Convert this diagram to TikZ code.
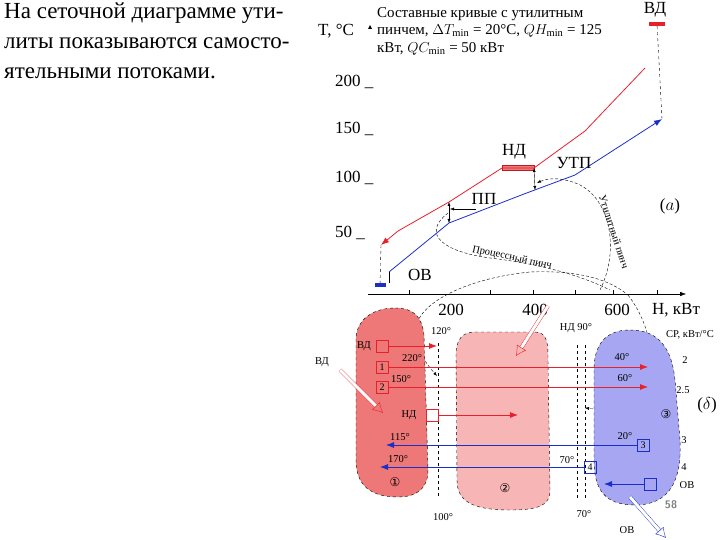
\documentclass[tikz,border=0pt]{standalone}
\usepackage{fontspec}
\setmainfont{Liberation Serif}
\newfontfamily\symfont{DejaVu Sans}
\usetikzlibrary{arrows.meta}
\definecolor{hotred}{HTML}{E8202A}
\definecolor{coldblue}{HTML}{1A2FC8}
\definecolor{blobA}{HTML}{EE7777}
\definecolor{blobB}{HTML}{F7B5B5}
\definecolor{blobC}{HTML}{A6A6F2}
\begin{document}
\begin{tikzpicture}[x=1pt,y=-1pt,
    lbl/.style={inner sep=0pt, font=\fontsize{10.5}{12}\selectfont},
    big/.style={inner sep=0pt, font=\fontsize{17}{19}\selectfont},
    stream/.style={-{Latex[length=8pt,width=6pt]}, thick},
    sbox/.style={draw, thick, minimum size=12pt, inner sep=0pt, font=\fontsize{10}{11}\selectfont},
    blob/.style={draw, dashed, thin},
    hollow/.style={double, double distance=3pt, -{Latex[open,length=10pt,width=11pt]}},
    loop/.style={densely dashed, thin},
]
\useasboundingbox (0,0) rectangle (720,540);

% left text
\node[anchor=west, inner sep=0pt, font=\fontsize{23}{26}\selectfont] (t1) at (4,13) {На сеточной диаграмме ути-};
\node[anchor=west, inner sep=0pt, font=\fontsize{23}{26}\selectfont] (t2) at (4,43) {литы показываются самосто-};
\node[anchor=west, inner sep=0pt, font=\fontsize{23}{26}\selectfont] (t3) at (4,73) {ятельными потоками.};

% (a) axes
\node[big, anchor=west] (ylab) at (318,31) {T, °C};
\fill (370,25) -- (368,29) -- (372,29) -- cycle;
\foreach \v/\y in {200/82,150/129,100/178,50/233} {
  \node[big, anchor=west] (y\v) at (335,\y) {\v\ \_};
}
\coordinate (ax0) at (368,294);
\coordinate (ax1) at (686,294);
\draw[-{Latex[length=6pt]}] (ax0) -- (ax1);
\foreach \x in {409,490,533,575,613,657} { \draw (\x,294) -- (\x,290); }
\node[anchor=north west, align=left, inner sep=0pt, font=\fontsize{15}{17.5}\selectfont] (title) at (377,7)
  {Составные кривые с утилитным\\пинчем, $\Delta T_{\min}$ = 20°C, $QH_{\min}$ = 125\\кВт, $QC_{\min}$ = 50 кВт};

% utility bars
\node[fill=hotred, minimum width=16pt, minimum height=4pt, inner sep=0pt] (vd) at (657,24) {};
\node[big] (vdl) at (655,10) {ВД};
\node[fill=coldblue, minimum width=11pt, minimum height=4pt, inner sep=0pt] (ov) at (380,285) {};
\node[big] (ovl) at (420,275) {ОВ};
\node[draw=hotred!80!black, fill=blobA, minimum width=32pt, minimum height=5pt, inner sep=0pt] (nd) at (518,168) {};
\node[big] (ndl) at (514,152) {НД};

% curves
\coordinate (h0) at (645,68);
\coordinate (h1) at (585,131);
\coordinate (h2) at (534,168);
\coordinate (h3) at (502,168);
\coordinate (h4) at (449,202);
\coordinate (h5) at (398,231);
\coordinate (h6) at (381,245);
\draw[hotred, thick, -{Latex[length=8pt,width=6pt]}] (h0) -- (h1) -- (h2) -- (h3) -- (h4) -- (h5) -- (h6);
\coordinate (c0) at (389,272);
\coordinate (c1) at (449,223);
\coordinate (c2) at (524,194);
\coordinate (c3) at (575,175);
\coordinate (c4) at (662,119);
\draw[coldblue, thick, -{Latex[length=8pt,width=6pt]}] (c0) -- (c1) -- (c2) -- (c3) -- (c4);
\draw[dashed] (vd) -- (c4);
\draw[dashed] (h6) -- (ov);
\draw (c0) -- (389,283);

% pinches
\draw[{Latex[length=4pt]}-{Latex[length=4pt]}] (h4) -- (c1);
\coordinate (c5) at (535,190);
\draw[{Latex[length=4pt]}-{Latex[length=4pt]}] (h2) -- (c5);
\node[big] (pp) at (484,199) {ПП};
\draw[-{Latex[length=4pt]}] (476,209) -- (450,209);
\node[big] (utp) at (574,163) {УТП};
\node[big] (la) at (670,206) {($a$)};

% pinch loops
\draw[loop, -{Latex[length=4pt]}] (600,290) .. controls (620,250) and (610,200) .. (580,185) .. controls (565,178) and (550,177) .. (537,183);
\draw[loop] (448,213) .. controls (420,235) and (445,252) .. (490,258) .. controls (540,264) and (580,275) .. (610,290);
\draw[loop] (417,323) .. controls (425,300) and (470,278) .. (530,272) .. controls (580,270) and (610,280) .. (628,295);
\draw[loop, -{Latex[length=4pt]}] (416,333) .. controls (418,355) and (430,368) .. (437,376);
\draw[loop, -{Latex[length=4pt]}] (628,295) .. controls (655,330) and (660,380) .. (630,400) .. controls (610,408) and (595,409) .. (585,408);
\node[lbl, rotate=-12] (ppinch) at (512,258) {Процессный пинч};
\node[lbl, rotate=-72] (upinch) at (614,232) {Утилитный пинч};

% (б) blobs
\fill[blobA] (395,308) .. controls (415,308) and (422,318) .. (424,335) -- (428,470) .. controls (428,490) and (415,497) .. (398,497) .. controls (370,497) and (356,485) .. (356,460) -- (356,340) .. controls (356,318) and (375,308) .. (395,308) -- cycle;
\draw[blob] (395,308) .. controls (415,308) and (422,318) .. (424,335) -- (428,470) .. controls (428,490) and (415,497) .. (398,497) .. controls (370,497) and (356,485) .. (356,460) -- (356,340) .. controls (356,318) and (375,308) .. (395,308) -- cycle;
\fill[blobB] (475,332) -- (535,332) .. controls (548,332) and (548,345) .. (548,360) -- (550,490) .. controls (550,505) and (540,510) .. (510,510) .. controls (470,510) and (457,500) .. (457,480) -- (456,355) .. controls (456,340) and (462,332) .. (475,332) -- cycle;
\draw[blob] (475,332) -- (535,332) .. controls (548,332) and (548,345) .. (548,360) -- (550,490) .. controls (550,505) and (540,510) .. (510,510) .. controls (470,510) and (457,500) .. (457,480) -- (456,355) .. controls (456,340) and (462,332) .. (475,332) -- cycle;
\fill[blobC] (630,330) .. controls (660,330) and (672,350) .. (675,380) -- (680,440) .. controls (682,480) and (670,505) .. (635,505) .. controls (605,505) and (594,490) .. (594,460) -- (594,370) .. controls (594,345) and (605,330) .. (630,330) -- cycle;
\draw[blob] (630,330) .. controls (660,330) and (672,350) .. (675,380) -- (680,440) .. controls (682,480) and (670,505) .. (635,505) .. controls (605,505) and (594,490) .. (594,460) -- (594,370) .. controls (594,345) and (605,330) .. (630,330) -- cycle;

% dashed temperature lines
\draw[dashed] (438,343) -- (438,497);
\draw[dashed] (577,345) -- (577,500);
\draw[dashed] (585,345) -- (585,500);

% (б) labels
\node[big] (h200) at (451,310) {200};
\node[big] (h400) at (535,310) {400};
\node[big] (h600) at (617,310) {600};
\node[big, anchor=west] (hlab) at (652,310) {Н, кВт};
\node[lbl] (t120) at (441,331) {120°};
\node[lbl] (t90) at (576,328) {НД 90°};
\node[lbl] (cp) at (690,335) {СР, кВт/°С};
\node[lbl] (t100) at (443,517) {100°};
\node[lbl] (t70) at (584,514) {70°};

% hot streams
\node[sbox, draw=hotred] (bvd) at (382,346) {};
\node[lbl] (vdb) at (364,346) {ВД};
\coordinate (evd) at (437,346);
\draw[stream, hotred] (bvd) -- (evd);
\node[sbox, draw=hotred] (b1) at (382,367) {1};
\coordinate (e1) at (648,367);
\draw[stream, hotred] (b1) -- (e1);
\node[lbl] (t220) at (412,358) {220°};
\node[lbl] (t40) at (622,357) {40°};
\node[lbl] (cp1) at (685,360) {2};
\node[sbox, draw=hotred] (b2) at (382,387) {2};
\coordinate (e2) at (648,387);
\draw[stream, hotred] (b2) -- (e2);
\node[lbl] (t150) at (401,379) {150°};
\node[lbl] (t60) at (625,378) {60°};
\node[lbl] (cp2) at (683,390) {2.5};
\node[sbox, draw=hotred, fill=white] (bnd) at (432,415) {};
\node[lbl] (ndb) at (409,415) {НД};
\coordinate (end) at (518,415);
\draw[stream, hotred] (bnd) -- (end);

% cold streams
\node[sbox, draw=coldblue] (b3) at (643,445) {3};
\coordinate (e3) at (386,445);
\draw[stream, coldblue] (b3) -- (e3);
\node[lbl] (t20) at (625,436) {20°};
\node[lbl] (t115) at (400,437) {115°};
\node[lbl] (cp3) at (684,440) {3};
\node[sbox, draw=coldblue] (b4) at (590,467) {4};
\coordinate (e4) at (380,467);
\draw[stream, coldblue] (b4) -- (e4);
\node[lbl] (t70b) at (567,460) {70°};
\node[lbl] (t170) at (398,459) {170°};
\node[lbl] (cp4) at (684,467) {4};
\node[sbox, draw=coldblue] (bov) at (650,484) {};
\coordinate (eov) at (604,484);
\draw[stream, coldblue] (bov) -- (eov);
\node[lbl] (ovb) at (687,485) {ОВ};

% utility supply arrows
\node[lbl] (vdin) at (322,362) {ВД};
\draw[hollow, hotred] (340,370) -- (383,413);
\draw[hollow, hotred] (548,306) -- (516,356);
\draw[hollow, coldblue] (630,497) -- (666,538);
\node[lbl] (ovout) at (627,530) {ОВ};

% marks
\node[inner sep=0pt, font=\symfont\fontsize{12}{14}\selectfont] (n1) at (395,482) {①};
\node[inner sep=0pt, font=\symfont\fontsize{12}{14}\selectfont] (n2) at (505,488) {②};
\node[inner sep=0pt, font=\symfont\fontsize{12}{14}\selectfont] (n3) at (666,414) {③};
\node[big] (lb) at (707,405) {($\delta$)};
\node[inner sep=0pt, text=gray, font=\sffamily\bfseries\fontsize{11}{12}\selectfont] (pg) at (671,505) {58};
\end{tikzpicture}
\end{document}
